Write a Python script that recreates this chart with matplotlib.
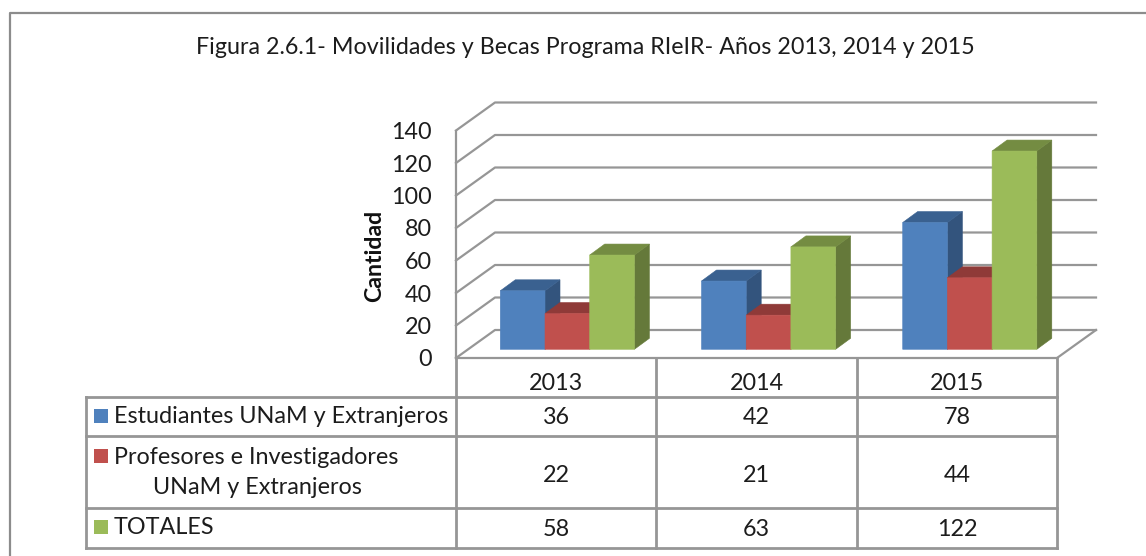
import matplotlib
matplotlib.use("Agg")
import matplotlib.pyplot as plt
from matplotlib.patches import Polygon, Rectangle

years = ["2013", "2014", "2015"]
estudiantes = [36, 42, 78]
profesores = [22, 21, 44]
totales = [58, 63, 122]
yticks = [0, 20, 40, 60, 80, 100, 120, 140]
title = "Figura 2.6.1- Movilidades y Becas Programa RIeIR- Años 2013, 2014 y 2015"
row_labels = ["Estudiantes UNaM y Extranjeros", "Profesores e Investigadores", "TOTALES"]

W, H = 1146, 556
plt.rcParams["font.family"] = ["Lato", "DejaVu Sans"]
fig = plt.figure(figsize=(W / 100, H / 100), dpi=100, facecolor="white")

# overlay in pixel coordinates for frame and table
px = fig.add_axes([0, 0, 1, 1])
px.set_xlim(0, W)
px.set_ylim(H, 0)
px.axis("off")

GRID = "#969696"
TXT = "#1c1c1c"
# frame
px.plot([9.5, 9.5, W], [H, 12.5, 12.5], color="#8c8c8c", lw=1.6)

# plot axes: front plane of the 3D box
L, R, T, B = 456, 1057, 130.5, 358
ax = fig.add_axes([L / W, 1 - B / H, (R - L) / W, (B - T) / H])
ax.set_xlim(0, 3)
ax.set_ylim(0, 140)
ax.axis("off")
ax.patch.set_alpha(0)

ux = 3 / (R - L)    # data units per pixel
uy = 140 / (B - T)
wall_dx, wall_dy = 39 * ux, 28 * uy
kw = dict(clip_on=False)
for v in yticks:
    ax.plot([0, wall_dx, 3 + wall_dx], [v, v + wall_dy, v + wall_dy], color=GRID, lw=1.6, zorder=1, **kw)
    ax.text(-24 * ux, v - 2 * uy, str(v), ha="right", va="center", fontsize=16.8, color=TXT, **kw)
ax.plot([0, 0], [0, 140], color=GRID, lw=1.6, zorder=1, **kw)
ax.plot([3, 3 + wall_dx], [0, wall_dy], color=GRID, lw=1.6, zorder=1, **kw)
ax.plot([0, 3], [0, 0], color=GRID, lw=1.6, zorder=1, **kw)

px.text(375, 255.5, "Cantidad", rotation=90, ha="center", va="center",
        fontsize=16.7, fontweight="bold", color="#111111")

series = [
    (estudiantes, "#4f81bd", "#3a6190", "#33547d"),
    (profesores, "#c0504d", "#8f3a38", "#7c3230"),
    (totales, "#9bbb59", "#748c42", "#65793a"),
]
bar_w = 44.7 * ux
start = 44.3 * ux
step = 201.2 * ux
bot = 8.7 * uy
d_x, d_y = 15 * ux, 11 * uy
for s, (vals, front, top, side) in enumerate(series):
    for c, v in enumerate(vals):
        x0 = c * step + start + s * bar_w
        y1 = v + bot
        z = 2 + s * 0.1
        ax.add_patch(Polygon([(x0 + bar_w, bot), (x0 + bar_w + d_x, bot + d_y),
                              (x0 + bar_w + d_x, y1 + d_y), (x0 + bar_w, y1)],
                             fc=side, ec=side, lw=0.4, zorder=z + 0.01, snap=False, **kw))
        ax.add_patch(Polygon([(x0, y1), (x0 + d_x, y1 + d_y), (x0 + bar_w + d_x, y1 + d_y),
                              (x0 + bar_w, y1)], fc=top, ec=top, lw=0.4, zorder=z + 0.02, snap=False, **kw))
        ax.add_patch(Rectangle((x0, bot), bar_w, v, fc=front, ec=front, lw=0.4, zorder=z + 0.03, snap=False, **kw))

# title
px.text(585, 47.5, title, ha="center", va="center", fontsize=16.75, color=TXT)

# table
rows_y = [397, 436, 507.5, 547.5]
cols_x = [456, 656, 857, 1057]
c = dict(color=GRID, lw=2)
for x in cols_x:
    px.plot([x, x], [358, rows_y[-1]], **c)
px.plot([85.5, 85.5], [rows_y[0], rows_y[-1]], **c)
for y in rows_y:
    px.plot([85.5, 1057], [y, y], **c)

fs = 16.8
centers = [(cols_x[i] + cols_x[i + 1]) / 2 for i in range(3)]
for i, yr in enumerate(years):
    px.text(centers[i], 384, yr, ha="center", va="center", fontsize=fs, color=TXT)
row_cy = [418, 475, 529]
for r, (vals, col) in enumerate(zip([estudiantes, profesores, totales], [s[1] for s in series])):
    for i, v in enumerate(vals):
        px.text(centers[i], row_cy[r], str(v), ha="center", va="center", fontsize=fs, color=TXT)
    ky = [416, 456, 527][r]
    px.add_patch(Rectangle((94, ky - 7), 14, 14, fc=col, ec="none"))
px.text(114, 416.5, row_labels[0], ha="left", va="center", fontsize=fs, color=TXT)
px.text(114, 457, row_labels[1], ha="left", va="center", fontsize=fs, color=TXT)
px.text(153, 487, "UNaM y Extranjeros", ha="left", va="center", fontsize=fs, color=TXT)
px.text(114, 528, row_labels[2], ha="left", va="center", fontsize=fs, color=TXT)

fig.savefig("out.png", dpi=100)
